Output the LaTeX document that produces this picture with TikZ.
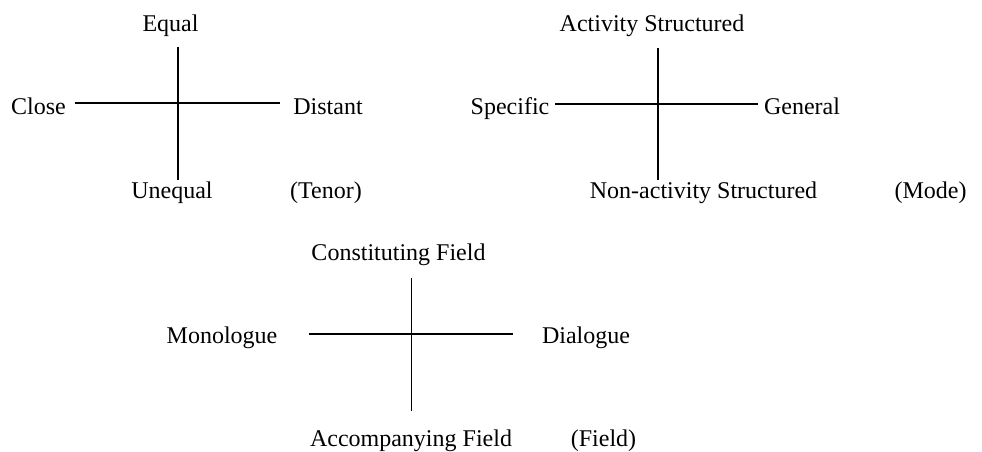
\documentclass[tikz,border=0pt]{standalone}
\usepackage{fontspec}
\setmainfont{Liberation Serif}
\begin{document}
\begin{tikzpicture}[x=1pt,y=-1pt,
  lbl/.style={anchor=base,inner sep=0pt,font=\fontsize{24}{28}\selectfont},
  axis/.style={line width=1.9pt}]
\useasboundingbox (0,0) rectangle (982,452);

% Tenor
\coordinate (tT) at (178,47);  \coordinate (tB) at (178,180);
\coordinate (tL) at (75,103);  \coordinate (tR) at (280,103);
\draw[axis] (tT) -- (tB);
\draw[axis] (tL) -- (tR);
\node[lbl] (equal)   at (170.5,31.5) {Equal};
\node[lbl] (close)   at (38.5,114)   {Close};
\node[lbl] (distant) at (328,114)    {Distant};
\node[lbl] (unequal) at (172,198.5)  {Unequal};
\node[lbl] (tenor)   at (326,198.5)  {(Tenor)};

% Mode
\coordinate (mT) at (658,48);  \coordinate (mB) at (658,180);
\coordinate (mL) at (555,104); \coordinate (mR) at (758,104);
\draw[axis] (mT) -- (mB);
\draw[axis] (mL) -- (mR);
\node[lbl] (actstr)  at (652,32)    {Activity Structured};
\node[lbl] (specific) at (510,114)  {Specific};
\node[lbl] (general) at (802,114)   {General};
\node[lbl] (nonact)  at (703.5,198.5) {Non-activity Structured};
\node[lbl] (mode)    at (930.5,198.5) {(Mode)};

% Field
\coordinate (fT) at (411.5,278); \coordinate (fB) at (411.5,411);
\coordinate (fL) at (309,334);   \coordinate (fR) at (513,334);
\draw[axis] (fT) -- (fB);
\draw[axis] (fL) -- (fR);
\node[lbl] (constf)  at (398.5,260) {Constituting Field};
\node[lbl] (mono)    at (222,343)   {Monologue};
\node[lbl] (dia)     at (586,343)   {Dialogue};
\node[lbl] (accf)    at (411,446.5) {Accompanying Field};
\node[lbl] (field)   at (603.5,446.5) {(Field)};
\end{tikzpicture}
\end{document}
